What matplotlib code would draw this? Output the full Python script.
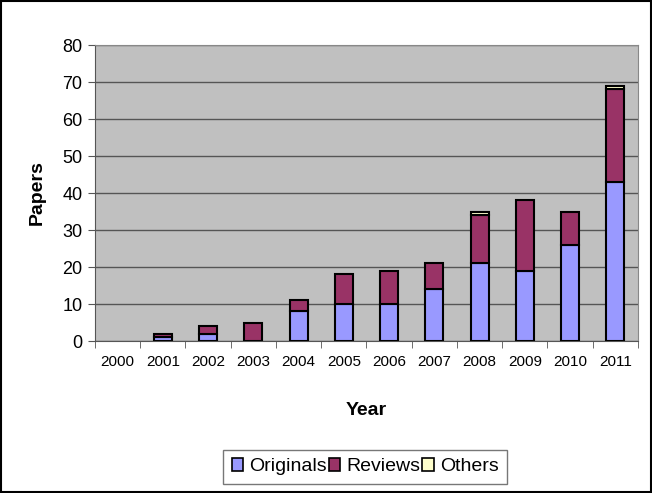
import matplotlib.pyplot as plt
from matplotlib.patches import Patch
import numpy as np

plt.rcParams['font.family'] = ['Liberation Sans', 'DejaVu Sans']

years = ['2000', '2001', '2002', '2003', '2004', '2005', '2006',
         '2007', '2008', '2009', '2010', '2011']
originals = [0, 1, 2, 0, 8, 10, 10, 14, 21, 19, 26, 43]
reviews = [0, 1, 2, 5, 3, 8, 9, 7, 13, 19, 9, 25]
others = [0, 0, 0, 0, 0, 0, 0, 0, 1, 0, 0, 1]

colors = ['#9999FF', '#993366', '#FFFFCC']
names = ['Originals', 'Reviews', 'Others']

fig = plt.figure(figsize=(6.52, 4.93), dpi=100)
ax = fig.add_axes([0.1457, 0.3083, 0.8328, 0.6004])
ax.set_facecolor('#C0C0C0')

x = np.arange(len(years))
w = 0.4
orig = np.array(originals)
rev = np.array(reviews)
oth = np.array(others)
b1 = ax.bar(x, orig, w, color=colors[0], edgecolor='black', linewidth=1.5, zorder=3)
b2 = ax.bar(x, rev, w, bottom=orig, color=colors[1], edgecolor='black',
            linewidth=1.5, zorder=3)
b3 = ax.bar(x, oth, w, bottom=orig + rev, color=colors[2], edgecolor='black',
            linewidth=1.5, zorder=3)
# hide empty segments
for bars in (b1, b2, b3):
    for p in bars:
        if p.get_height() == 0:
            p.set_visible(False)

ax.set_xlim(-0.5, len(years) - 0.5)
ax.set_ylim(0, 80)
ax.set_yticks(range(0, 81, 10))
ax.yaxis.grid(True, color='#555555', linewidth=1, zorder=0)
ax.set_xticks(x)
ax.set_xticklabels(years)
ax.set_xticks(np.arange(-0.5, len(years)), minor=True)
ax.tick_params(axis='x', which='major', length=0, pad=10, labelsize=11)
ax.tick_params(axis='x', which='minor', length=5, color='#555555')
ax.tick_params(axis='y', length=5, color='#555555', labelsize=13, pad=4)
for s in ['top', 'right']:
    ax.spines[s].set_color('#888888')
ax.spines['left'].set_color('#555555')
ax.spines['bottom'].set_color('#555555')

ax.set_ylabel('Papers', fontsize=14, fontweight='bold', labelpad=12)
ax.set_xlabel('Year', fontsize=14, fontweight='bold', labelpad=24)

handles = [Patch(facecolor=c, edgecolor='black', linewidth=1.2, label=n)
           for c, n in zip(colors, names)]
leg = fig.legend(handles=handles, loc='center', bbox_to_anchor=(0.56, 0.053),
                 ncol=3, fontsize=14, frameon=True, fancybox=False,
                 handlelength=0.6, handleheight=0.6, handletextpad=0.3,
                 columnspacing=0.1, borderpad=0.45)
leg.get_frame().set_edgecolor('#555555')
leg.get_frame().set_linewidth(1)

fig.patches.append(plt.Rectangle((0.002, 0.002), 0.996, 0.996, transform=fig.transFigure,
                                 fill=False, edgecolor='black', linewidth=1.5))

fig.savefig('out.png', dpi=100)
